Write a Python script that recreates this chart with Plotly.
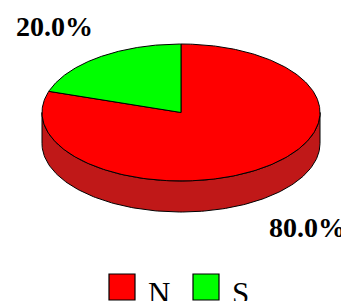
import numpy as np
import plotly.graph_objects as go

# ---- data ----
labels = ["N", "S"]
values = [80.0, 20.0]
colors = ["#FF0000", "#00FF00"]
side_colors = ["#C01818", "#00C000"]

# ---- layout geometry (pixels of the 349x301 window) ----
W, H = 349, 301
OFF = 8  # default page body margin
cx, cy = 181, 112.5
rx, ry = 139, 68.5
depth = 31
label_k = 1.55

def ell(a_deg, dy=0.0):
    a = np.radians(a_deg)
    return cx + rx * np.cos(a), cy - ry * np.sin(a) + dy

total = sum(values)
slices = []
start = 90.0
for lab, v in zip(labels, values):
    sweep = 360.0 * v / total
    slices.append((lab, start - sweep, start, v))
    start -= sweep

fig = go.Figure()

# sides (front visible half, angles 180..360)
for (lab, a0, a1, v), sc in zip(slices, side_colors):
    for shift in (-720, -360, 0, 360):
        lo = max(a0 + shift, 180)
        hi = min(a1 + shift, 360)
        if hi > lo:
            t = np.linspace(lo, hi, 160)
            xt, yt = ell(t)
            xb, yb = ell(t[::-1], depth)
            xs = np.concatenate([xt, xb, xt[:1]])
            ys = np.concatenate([yt, yb, yt[:1]])
            fig.add_trace(go.Scatter(x=xs, y=ys, mode="lines", fill="toself",
                                     fillcolor=sc, line=dict(color="black", width=1),
                                     hoverinfo="skip", showlegend=False))

# top faces
for (lab, a0, a1, v), c in zip(slices, colors):
    t = np.linspace(a0, a1, 300)
    xe, ye = ell(t)
    xs = np.concatenate([[cx], xe, [cx]])
    ys = np.concatenate([[cy], ye, [cy]])
    fig.add_trace(go.Scatter(x=xs, y=ys, mode="lines", fill="toself",
                             fillcolor=c, line=dict(color="black", width=1),
                             hoverinfo="skip", showlegend=False, name=lab))

# percentage labels
for (lab, a0, a1, v) in slices:
    mid = (a0 + a1) / 2
    px, py = ell(mid)
    lx = cx + label_k * (px - cx)
    ly = cy + label_k * (py - cy)
    if np.sin(np.radians(mid)) < 0:
        ly += depth - 2
    fig.add_annotation(x=lx, y=ly, text=f"<b>{100*v/total:.1f}%</b>", showarrow=False,
                       font=dict(family="Liberation Serif", size=28, color="black"),
                       xanchor="center", yanchor="middle")

# legend (manual, large square swatches)
leg_y = 287
leg_x = [122, 206]
for lab, c, lxp in zip(labels, colors, leg_x):
    fig.add_trace(go.Scatter(x=[lxp], y=[leg_y], mode="markers",
                             marker=dict(symbol="square", size=26, color=c,
                                         line=dict(color="black", width=1.2)),
                             hoverinfo="skip", showlegend=False))
    fig.add_annotation(x=lxp + 24, y=leg_y + 6, text=lab, showarrow=False,
                       xanchor="left", yanchor="middle",
                       font=dict(family="Liberation Serif", size=31, color="black"))

fig.update_layout(
    width=W - OFF, height=H - OFF, margin=dict(l=0, r=0, t=0, b=0),
    paper_bgcolor="white", plot_bgcolor="white",
    xaxis=dict(range=[OFF, W], visible=False, fixedrange=True),
    yaxis=dict(range=[H, OFF], visible=False, fixedrange=True),
    showlegend=False,
)
fig.write_html("out.html")
